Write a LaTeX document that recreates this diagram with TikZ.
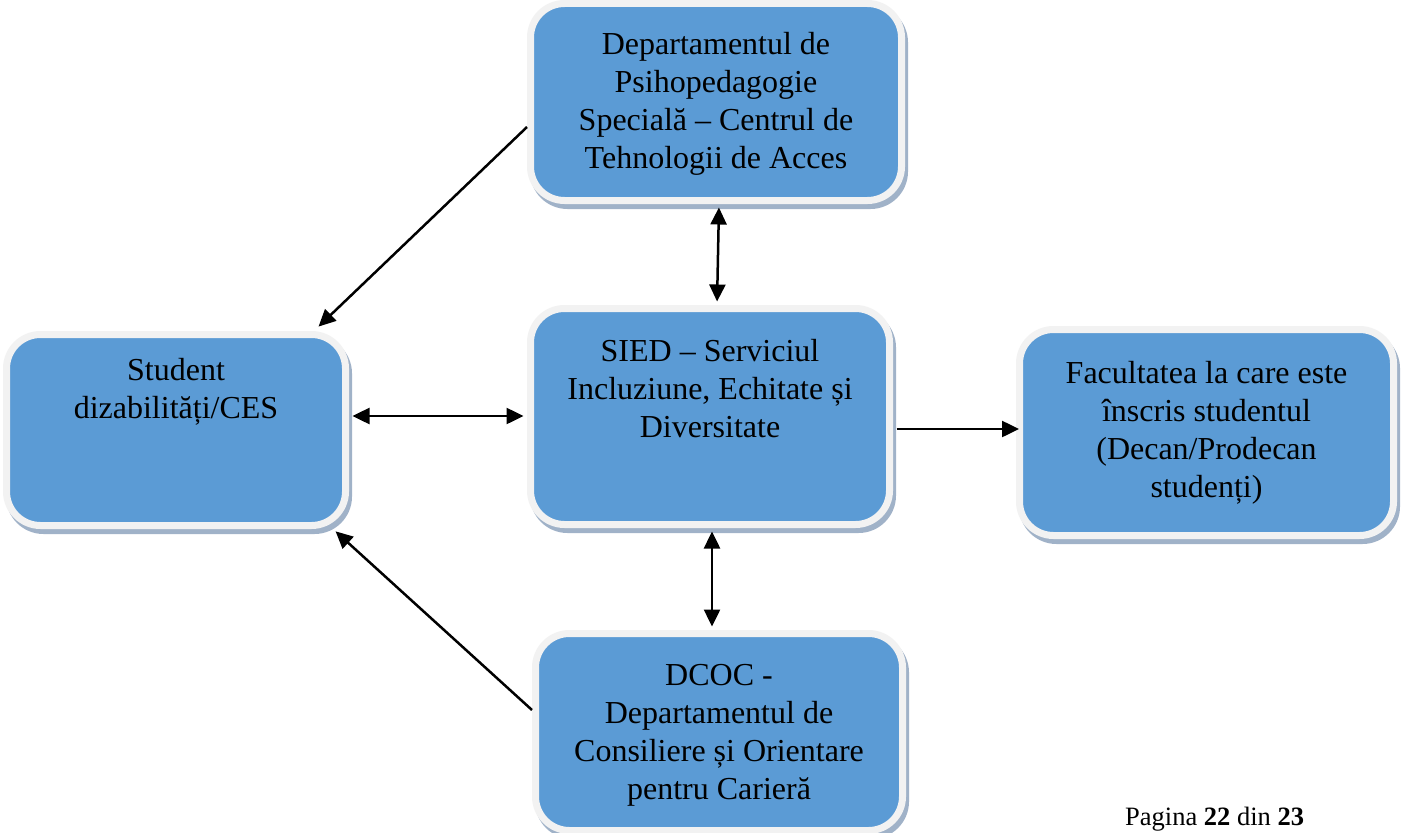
\documentclass[tikz,border=0pt]{standalone}
\usepackage{fontspec}
\setmainfont{Liberation Serif}
\usetikzlibrary{arrows.meta}
\definecolor{boxblue}{HTML}{5B9BD5}
\definecolor{rimgray}{HTML}{F2F2F2}
\definecolor{shadowcol}{RGB}{160,178,200}
\begin{document}
\begin{tikzpicture}[x=1pt,y=-1pt,
  box/.style={rectangle, rounded corners=34pt, fill=boxblue, draw=rimgray, line width=7pt, inner sep=0pt,
    preaction={draw=shadowcol, fill=shadowcol, line width=7pt, transform canvas={shift={(3pt,-5pt)}}}},
  txt/.style={anchor=base, inner sep=0pt, font=\fontsize{32}{38}\selectfont},
  link/.style={line width=2.5pt, -{Triangle[length=17pt,width=16pt]}, shorten >=3.5pt, shorten <=3.5pt},
  both/.style={line width=2.5pt, {Triangle[length=17pt,width=16pt]}-{Triangle[length=17pt,width=16pt]}, shorten >=3.5pt, shorten <=3.5pt}]
\useasboundingbox (0,0) rectangle (1407,832);
\fill[white] (0,0) rectangle (1407,832);

\node[box, minimum width=371pt, minimum height=197pt] (dept) at (716,102) {};
\node[box, minimum width=339pt, minimum height=191pt] (stud) at (176,430) {};
\node[box, minimum width=359pt, minimum height=216pt] (sied) at (710,416.5) {};
\node[box, minimum width=374pt, minimum height=206pt] (fac) at (1206.5,432.5) {};
\node[box, minimum width=367pt, minimum height=197pt] (dcoc) at (719,732) {};

\node[txt] (deptt) at (716,55) {\begin{tabular}[t]{@{}c@{}}Departamentul de\\Psihopedagogie\\Specială – Centrul de\\Tehnologii de Acces\end{tabular}};
\node[txt] (studt) at (176,380) {\begin{tabular}[t]{@{}c@{}}Student\\dizabilități/CES\end{tabular}};
\node[txt] (siedt) at (710,361) {\begin{tabular}[t]{@{}c@{}}SIED – Serviciul\\Incluziune, Echitate și\\Diversitate\end{tabular}};
\node[txt] (fact) at (1206.5,383) {\begin{tabular}[t]{@{}c@{}}Facultatea la care este\\înscris studentul\\(Decan/Prodecan\\studenți)\end{tabular}};
\node[txt] (dcoct) at (719,685) {\begin{tabular}[t]{@{}c@{}}DCOC -\\Departamentul de\\Consiliere și Orientare\\pentru Carieră\end{tabular}};

\node[anchor=base west, inner sep=0pt, font=\fontsize{26.5}{30}\selectfont] (page) at (1125,825) {Pagina \textbf{22} din \textbf{23}};

\draw[both] ([xshift=3pt]dept.south) -- ([xshift=7pt]sied.north);
\draw[both] ([yshift=14pt]stud.east) -- ([yshift=0.5pt]sied.west);
\draw[link, shorten >=-3pt] ([yshift=-12.5pt]sied.east) -- ([yshift=3.5pt]fac.west);
\draw[both] ([xshift=2pt]sied.south) -- ([xshift=-7pt]dcoc.north);
\draw[link, shorten <=0pt] ([yshift=-25pt]dept.west) -- ([xshift=140pt,yshift=2pt]stud.north);
\draw[link, shorten <=0pt] ([yshift=22pt]dcoc.west) -- ([xshift=157pt]stud.south);
\end{tikzpicture}
\end{document}
